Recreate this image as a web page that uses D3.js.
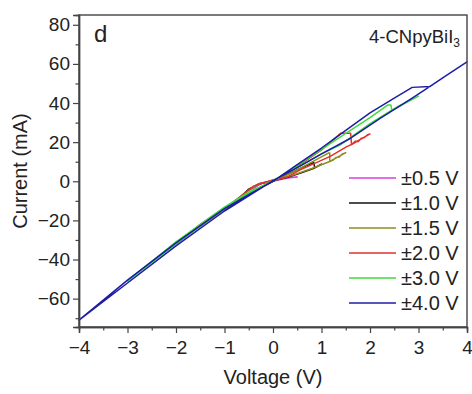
<!DOCTYPE html>
<html>
<head>
<meta charset="utf-8">
<script src="https://cdn.jsdelivr.net/npm/d3@7"></script>
<style>
  body { margin: 0; background: #fff; }
  text { font-family: "Liberation Sans", Arial, sans-serif; fill: #222; }
</style>
</head>
<body>
<div id="chart"></div>
<script>
// sweep data, [voltage (V), current (mA)] in measurement order
const sweep05 = [[0,0],[0.2,1.2],[0.35,1.8],[0.5,2.2],[0.4,2.0],[0.2,1.7],[0,0.7],
  [-0.1,-0.2],[-0.27,-1.0],[-0.4,-3.0],[-0.5,-4.5],[-0.4,-3.6],[-0.25,-1.2],[-0.1,-0.3],[0,0]];
const sweep10 = [[0,0],[0.3,3.5],[0.6,7],[0.84,9.6],[0.86,6.8],[0.93,7.8],[1.0,8.8],
  [0.86,6.8],[0.6,4.5],[0.3,2],[0,0.3],[-0.3,-1.5],[-0.5,-4],[-0.75,-10],[-1,-14.5],
  [-0.75,-10.8],[-0.5,-6.8],[-0.25,-3],[0,0]];
const sweep15 = [[0,0],[0.4,4.5],[0.76,9.3],[1.14,14.4],[1.17,14.4],[1.17,10.1],[1.25,11],
  [1.3,12.2],[1.37,12.4],[1.42,13.8],[1.5,14.6],[1.17,10.1],[0.8,6.5],[0.4,3],[0,0.3],
  [-0.3,-1.4],[-0.5,-4.5],[-1,-14.5],[-1.5,-23],[-1,-14],[-0.5,-6.5],[0,0]];
const sweep20 = [[0,0],[0.5,7.5],[1,16],[1.4,24.6],[1.6,24.6],[1.62,18.8],[1.7,20.5],
  [1.76,20.3],[1.82,22],[1.88,22.3],[1.95,23.8],[2.0,24.2],[1.62,18.8],[1.52,17.7],
  [1.18,12.7],[0.56,5.8],[0.3,2.2],[0,0.7],[-0.2,-0.8],[-0.4,-2.5],[-0.5,-4.5],[-1,-14],
  [-1.5,-23],[-2,-32],[-1.5,-22],[-1,-13.5],[-0.5,-6],[0,0]];
const sweep30 = [[0,0],[0.5,8],[1,16.3],[1.5,24.5],[2,32.5],[2.37,39],[2.43,39],[2.45,36.3],
  [2.6,38.5],[2.8,41],[3.0,43.5],[2.45,36.3],[2,29.5],[1.38,18.5],[1,14],[0.5,7],[0,0.5],
  [-0.5,-6],[-1,-14],[-2,-32],[-3,-51],[-2,-31],[-1,-13.2],[-0.5,-5.5],[0,0]];
const sweep40 = [[0,0],[0.5,8.5],[1,17],[1.5,26],[2,35],[2.5,42.5],[2.87,48],[3.24,48.5],
  [3.3,49.5],[3.6,54.5],[4,61],[3.6,54.5],[3.3,49.5],[2.87,42.5],[2.2,32],[1.6,22],[1,14],
  [0.5,7],[0,0.3],[-0.5,-7.5],[-1,-15.2],[-2,-33],[-3,-52],[-4,-71],[-3,-50.5],[-2,-31.5],
  [-1,-14],[-0.5,-6.8],[0,0]];

const sweepLabels = ["±0.5 V", "±1.0 V", "±1.5 V", "±2.0 V", "±3.0 V", "±4.0 V"];
const sweepColors = ["#dd3ddd", "#111111", "#8e8e1c", "#e3312f", "#3ddc3d", "#1c1ca6"];
const xTicks = [-4, -3, -2, -1, 0, 1, 2, 3, 4];
const yTicks = [-60, -40, -20, 0, 20, 40, 60, 80];

const sweeps = [sweep05, sweep10, sweep15, sweep20, sweep30, sweep40];

const W = 472, H = 394;
const margin = { top: 15, right: 5, bottom: 67, left: 79 };

const svg = d3.select('#chart')
  .append('svg')
  .attr('width', W)
  .attr('height', H);

const x = d3.scaleLinear().domain([-4, 4]).range([margin.left, W - margin.right]);
const y = d3.scaleLinear().domain([-74.5, 85]).range([H - margin.bottom, margin.top]);

const line = d3.line()
  .x(d => x(d[0]))
  .y(d => y(d[1]));

svg.append('g')
  .selectAll('path')
  .data(sweeps)
  .join('path')
  .attr('d', line)
  .attr('fill', 'none')
  .attr('stroke', (d, i) => sweepColors[i])
  .attr('stroke-width', 1.5)
  .attr('stroke-linejoin', 'round');

// frame
svg.append('rect')
  .attr('x', x(-4))
  .attr('y', y(85))
  .attr('width', x(4) - x(-4))
  .attr('height', y(-74.5) - y(85))
  .attr('fill', 'none')
  .attr('stroke', '#444')
  .attr('stroke-width', 1.4);

svg.append('g')
  .attr('transform', `translate(0, ${y(-74.5)})`)
  .call(d3.axisBottom(x).tickValues(xTicks).tickSize(6).tickPadding(8).tickFormat(d3.format('d')));
svg.append('g')
  .attr('transform', `translate(0, ${y(-74.5)})`)
  .call(d3.axisBottom(x).tickValues(d3.range(-3.5, 4, 1)).tickSize(3.5).tickFormat(''));

svg.append('g')
  .attr('transform', `translate(${x(-4)}, 0)`)
  .call(d3.axisLeft(y).tickValues(yTicks).tickSize(6).tickPadding(3).tickFormat(d3.format('d')));
svg.append('g')
  .attr('transform', `translate(${x(-4)}, 0)`)
  .call(d3.axisLeft(y).tickValues([-70, -50, -30, -10, 10, 30, 50, 70]).tickSize(3.5).tickFormat(''));

svg.selectAll('.domain').attr('stroke', '#444').attr('stroke-width', 1.4);
svg.selectAll('.tick line').attr('stroke', '#444').attr('stroke-width', 1.2);
svg.selectAll('.tick text')
  .attr('font-family', '"Liberation Sans", Arial, sans-serif')
  .attr('font-size', 19)
  .attr('fill', '#222');

// axis titles
svg.append('text')
  .attr('x', x(0))
  .attr('y', 384)
  .attr('text-anchor', 'middle')
  .attr('font-size', 20)
  .text('Voltage (V)');

svg.append('text')
  .attr('transform', `translate(27, 171) rotate(-90)`)
  .attr('text-anchor', 'middle')
  .attr('font-size', 20)
  .text('Current (mA)');

svg.append('text')
  .attr('x', 94)
  .attr('y', 42)
  .attr('font-size', 24)
  .text('d');

const comp = svg.append('text')
  .attr('x', 460)
  .attr('y', 43)
  .attr('text-anchor', 'end')
  .attr('font-size', 18.5);
comp.append('tspan').text('4-CNpyBiI');
comp.append('tspan').attr('font-size', 12).attr('dy', 4).text('3');

// legend
const legend = svg.append('g')
  .selectAll('g')
  .data(sweepLabels)
  .join('g')
  .attr('transform', (d, i) => `translate(349, ${178 + i * 25})`);

legend.append('line')
  .attr('x1', 0).attr('x2', 47)
  .attr('stroke', (d, i) => sweepColors[i])
  .attr('stroke-width', 1.6);

legend.append('text')
  .attr('x', 52)
  .attr('dy', '0.35em')
  .attr('font-size', 20)
  .text(d => d);
</script>
</body>
</html>
